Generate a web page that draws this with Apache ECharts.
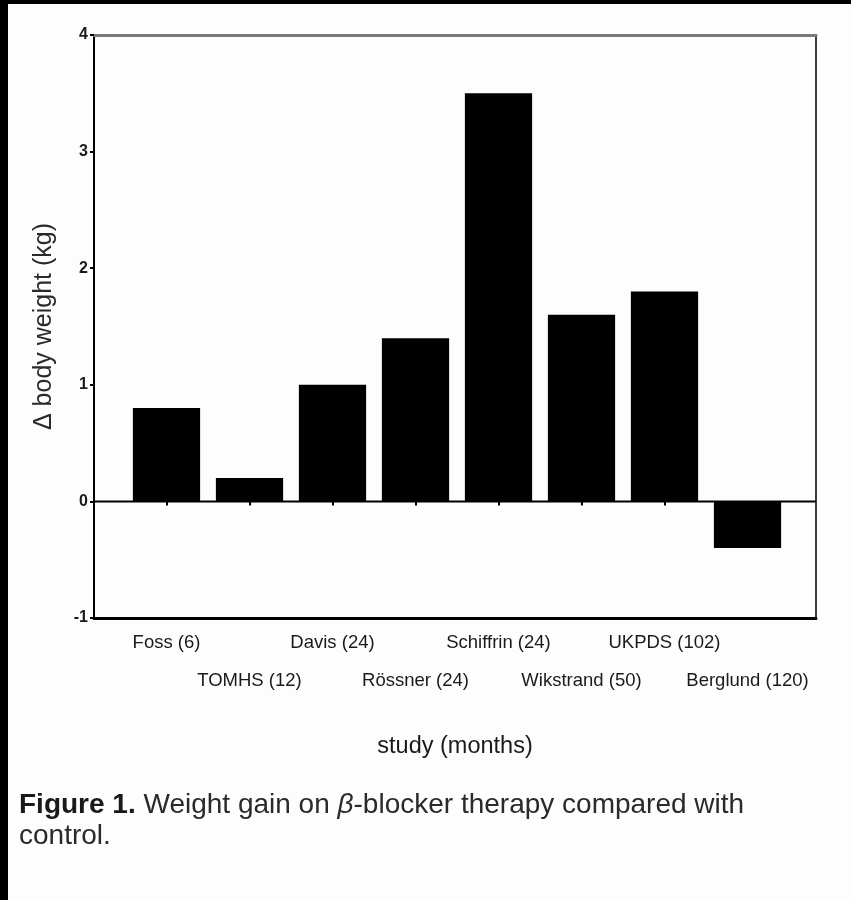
<!DOCTYPE html>
<html>
<head>
<meta charset="utf-8">
<script src="https://cdn.jsdelivr.net/npm/echarts@6/dist/echarts.min.js"></script>
<style>
  html, body { margin: 0; padding: 0; background: #fdfdfd; }
  #chart { width: 851px; height: 900px; }
</style>
</head>
<body>
<div id="chart"></div>
<script>
// Studies (follow-up in months) and mean weight change vs control, kg
const studies = ['Foss (6)', 'TOMHS (12)', 'Davis (24)', 'Rössner (24)', 'Schiffrin (24)', 'Wikstrand (50)', 'UKPDS (102)', 'Berglund (120)'];
const weightChange = [0.8, 0.2, 1.0, 1.4, 3.5, 1.6, 1.8, -0.4];
const yRange = { min: -1, max: 4, step: 1 };

const ink = '#1a1a1a';
const font = 'Liberation Sans, Arial, sans-serif';

const chart = echarts.init(document.getElementById('chart'), null, { renderer: 'canvas' });

chart.setOption({
  backgroundColor: '#fdfdfd',
  animation: false,
  textStyle: { fontFamily: font, color: ink },
  title: {
    left: 14,
    top: 785,
    text: '{b|Figure 1.} Weight gain on {i|β}-blocker therapy compared with\ncontrol.',
    textStyle: {
      fontFamily: font,
      fontSize: 28,
      fontWeight: 'normal',
      color: '#2a2a2a',
      lineHeight: 31,
      rich: {
        b: { fontFamily: font, fontSize: 28, fontWeight: 'bold', color: '#1a1a1a', lineHeight: 31 },
        i: { fontFamily: font, fontSize: 28, fontStyle: 'italic', color: '#2a2a2a', lineHeight: 31 }
      }
    }
  },
  graphic: [
    { type: 'rect', left: 0, top: 0, shape: { width: 8, height: 900 }, style: { fill: '#000' }, silent: true },
    { type: 'rect', left: 0, top: 0, shape: { width: 851, height: 4 }, style: { fill: '#000' }, silent: true }
  ],
  grid: [
    // frame + value axis
    { left: 94, right: 35, top: 35, bottom: 282 },
    // bar band
    { left: 125, right: 62, top: 35, bottom: 282 }
  ],
  xAxis: [
    {
      gridIndex: 0, type: 'value', min: 0, max: 1, position: 'bottom',
      axisLine: { onZero: false, lineStyle: { color: '#000', width: 3 } },
      axisTick: { show: false }, axisLabel: { show: false }, splitLine: { show: false },
      name: 'study (months)', nameLocation: 'middle', nameGap: 117,
      nameTextStyle: { fontFamily: font, fontSize: 23.5, color: ink }
    },
    {
      gridIndex: 0, type: 'value', min: 0, max: 1, position: 'top',
      axisLine: { onZero: false, lineStyle: { color: '#7a7a7a', width: 3 } },
      axisTick: { show: false }, axisLabel: { show: false }, splitLine: { show: false }
    },
    {
      gridIndex: 1, type: 'category', data: studies, position: 'bottom',
      axisLine: { show: false },
      axisTick: { show: true, alignWithLabel: true, length: 4, lineStyle: { color: '#000', width: 2 } },
      axisLabel: {
        interval: 0, margin: 6, fontFamily: font, fontSize: 18.5, color: ink, lineHeight: 38,
        formatter: (v, i) => (i % 2 ? '\n' + v : v)
      },
      splitLine: { show: false }
    }
  ],
  yAxis: [
    {
      gridIndex: 0, type: 'value', min: yRange.min, max: yRange.max, interval: yRange.step,
      axisLine: { show: true, onZero: false, lineStyle: { color: '#000', width: 2 } },
      axisTick: { show: true, length: 4, lineStyle: { color: '#000', width: 2 } },
      axisLabel: { margin: 6, fontFamily: font, fontSize: 16, fontWeight: 'bold', color: ink },
      splitLine: { show: false },
      name: 'Δ body weight (kg)', nameLocation: 'middle', nameGap: 37, nameRotate: 90,
      nameTextStyle: { fontFamily: font, fontSize: 25, color: '#2a2a2a' }
    },
    {
      gridIndex: 0, type: 'value', min: yRange.min, max: yRange.max, interval: yRange.step, position: 'right',
      axisLine: { show: true, onZero: false, lineStyle: { color: '#3a3a3a', width: 2 } },
      axisTick: { show: false }, axisLabel: { show: false }, splitLine: { show: false }
    },
    {
      gridIndex: 1, type: 'value', min: yRange.min, max: yRange.max, interval: yRange.step,
      show: false, splitLine: { show: false }
    }
  ],
  series: [
    {
      // zero reference line across the frame
      type: 'line', xAxisIndex: 0, yAxisIndex: 0,
      data: [[0, 0], [1, 0]], symbol: 'none', silent: true,
      lineStyle: { color: '#000', width: 2 }
    },
    {
      type: 'bar', xAxisIndex: 2, yAxisIndex: 2,
      data: weightChange, barCategoryGap: '19%',
      itemStyle: { color: '#000' }, silent: true
    }
  ]
});
</script>
</body>
</html>
